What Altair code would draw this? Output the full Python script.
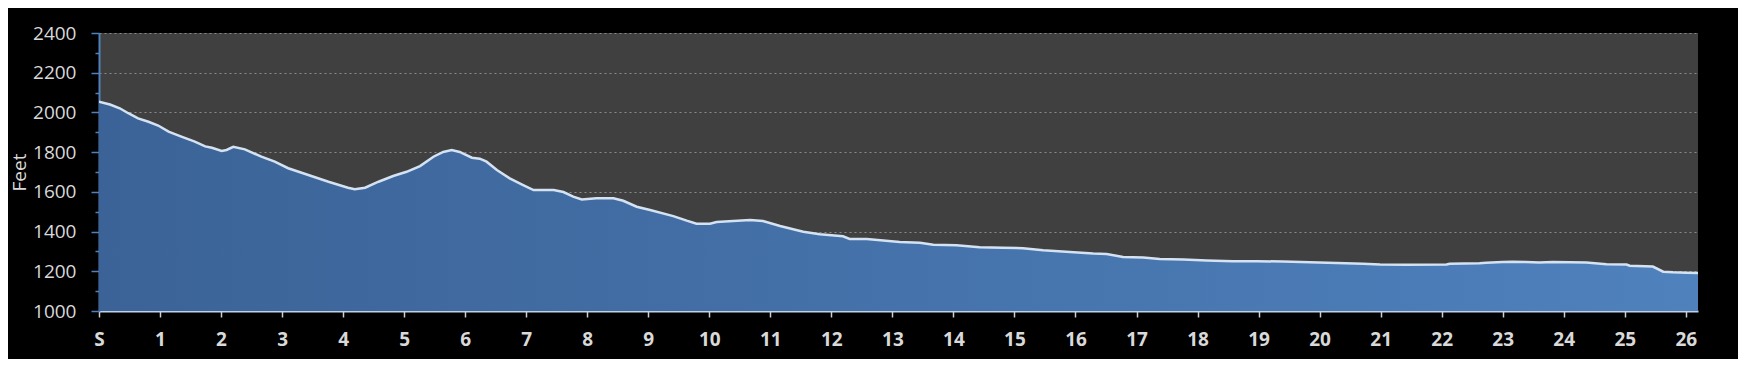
import altair as alt
import pandas as pd

miles = [0.0, 0.18, 0.34, 0.48, 0.64, 0.81, 0.97, 1.14, 1.35, 1.57, 1.74, 1.85, 2.01, 2.09, 2.2,
         2.39, 2.66, 2.88, 3.10, 3.43, 3.76, 4.08, 4.19, 4.36, 4.58, 4.82, 5.04, 5.26, 5.48,
         5.64, 5.78, 5.91, 6.11, 6.24, 6.35, 6.52, 6.73, 6.95, 7.12, 7.45, 7.61, 7.77, 7.91,
         8.15, 8.43, 8.59, 8.81, 9.03, 9.41, 9.63, 9.79, 10.01, 10.12, 10.39, 10.67, 10.88,
         11.16, 11.54, 11.81, 12.19, 12.30, 12.58, 13.12, 13.45, 13.67, 14.05, 14.43, 14.81,
         15.14, 15.47, 15.91, 16.29, 16.51, 16.78, 17.11, 17.38, 17.77, 18.15, 18.58, 18.97,
         19.40, 19.84, 20.28, 20.71, 20.99, 21.42, 22.08, 22.13, 22.62, 22.73, 23.0, 23.16,
         23.38, 23.60, 23.82, 24.37, 24.70, 25.03, 25.08, 25.46, 25.63, 25.79, 26.01, 26.2]
feet = [2054, 2040, 2021, 1996, 1970, 1953, 1934, 1903, 1878, 1853, 1829, 1822, 1806, 1811, 1827,
        1814, 1777, 1752, 1719, 1685, 1651, 1621, 1613, 1621, 1651, 1680, 1701, 1730, 1777,
        1801, 1811, 1801, 1772, 1767, 1752, 1710, 1668, 1634, 1609, 1609, 1599, 1576, 1562,
        1568, 1568, 1555, 1525, 1509, 1478, 1455, 1440, 1440, 1448, 1453, 1458, 1453,
        1428, 1399, 1386, 1376, 1363, 1363, 1347, 1344, 1334, 1331, 1321, 1319,
        1316, 1306, 1297, 1289, 1287, 1272, 1269, 1262, 1259, 1254, 1250, 1251,
        1249, 1245, 1242, 1238, 1234, 1233, 1234, 1238, 1240, 1243, 1247, 1248,
        1247, 1244, 1247, 1244, 1236, 1234, 1228, 1224, 1198, 1195, 1193, 1191]

y_ticks = list(range(1000, 2401, 100))
x_ticks = list(range(0, 27))

df = pd.DataFrame({"mile": miles, "feet": feet})

x_enc = alt.X("mile:Q",
              scale=alt.Scale(domain=[0, 26.2], nice=False, zero=False),
              axis=alt.Axis(values=x_ticks, title=None, format="d",
                            labelExpr="datum.value == 0 ? 'S' : datum.label",
                            labelFont="Open Sans", labelFontSize=19, labelFontWeight="bold",
                            labelColor="#d9d9d9", labelPadding=13, labelOverlap=False,
                            domainColor="#c3d1e4", domainWidth=2,
                            tickColor="#cfcfcf", tickSize=6, tickWidth=1.5,
                            grid=False, labelFlush=False))
y_enc = alt.Y("feet:Q",
              scale=alt.Scale(domain=[1000, 2400], nice=False, zero=False),
              axis=alt.Axis(values=y_ticks, title="Feet",
                            labelExpr="datum.value % 200 == 0 ? datum.label : ''",
                            format="d", labelOverlap=False,
                            labelFont="Open Sans", labelFontSize=19, labelColor="#d9d9d9",
                            labelPadding=15,
                            titleFont="Open Sans", titleFontSize=19, titleFontWeight="normal",
                            titleColor="#d9d9d9", titleX=-80, titleY=139, titleAngle=270,
                            titleAlign="center", titleBaseline="middle",
                            domainColor="#4f81bd", domainWidth=2,
                            tickColor="#4f81bd", tickWidth=1.5,
                            tickSize={"condition": {"test": "datum.value % 200 == 0", "value": 8}, "value": 4},
                            grid=True, gridColor="#8a8a8a", gridDash=[2, 3], gridWidth=1,
                            gridOpacity={"condition": {"test": "datum.value % 200 == 0 && datum.value > 1000", "value": 1}, "value": 0},
                            labelFlush=False))

area = alt.Chart(df).mark_area(
    clip=True,
    color=alt.Gradient(gradient="linear", x1=0, x2=1, y1=0, y2=0,
                       stops=[alt.GradientStop(color="#3b6397", offset=0),
                              alt.GradientStop(color="#4f81bd", offset=1)])
).encode(x=x_enc, y=y_enc, y2=alt.datum(1000))

line = alt.Chart(df).mark_line(color="#d5e2f2", strokeWidth=2.5, clip=True).encode(x=x_enc, y=y_enc)

chart = alt.layer(area, line).properties(
    width=1599, height=278,
    background="#000000",
    autosize=alt.AutoSizeParams(type="none"),
    padding={"left": 91, "top": 25, "right": 40, "bottom": 48},
).configure_view(fill="#404040", stroke=None)

chart.save("out.html", embed_options={"renderer": "svg", "actions": False})
